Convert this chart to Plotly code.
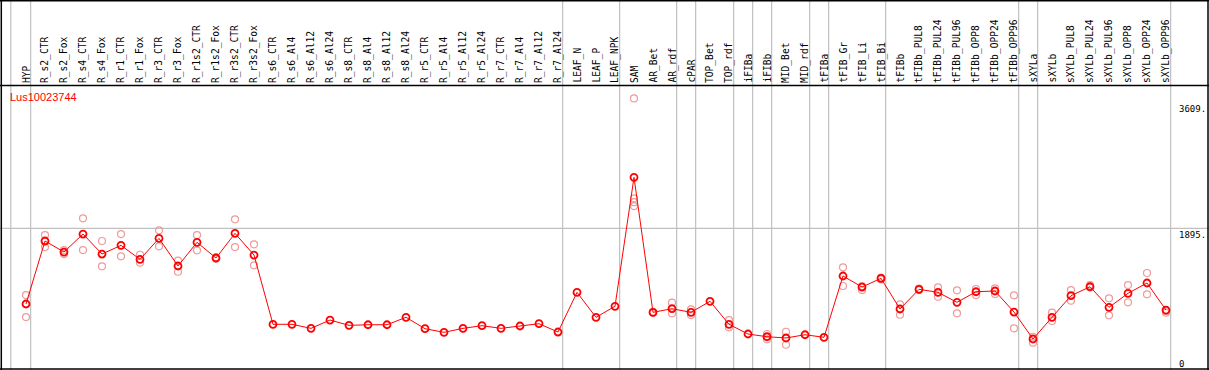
import plotly.graph_objects as go

categories = ["HYP", "R_s2_CTR", "R_s2_Fox", "R_s4_CTR", "R_s4_Fox", "R_r1_CTR", "R_r1_Fox",
              "R_r3_CTR", "R_r3_Fox", "R_r1s2_CTR", "R_r1s2_Fox", "R_r3s2_CTR", "R_r3s2_Fox",
              "R_s6_CTR", "R_s6_Al4", "R_s6_Al12", "R_s6_Al24", "R_s8_CTR", "R_s8_Al4", "R_s8_Al12",
              "R_s8_Al24", "R_r5_CTR", "R_r5_Al4", "R_r5_Al12", "R_r5_Al24", "R_r7_CTR", "R_r7_Al4",
              "R_r7_Al12", "R_r7_Al24", "LEAF_N", "LEAF_P", "LEAF_NPK", "SAM", "AR_Bet", "AR_rdf",
              "cPAR", "TOP_Bet", "TOP_rdf", "iFIBa", "iFIBb", "MID_Bet", "MID_rdf", "tFIBa",
              "tFIB_Gr", "tFIB_Li", "tFIB_Bi", "tFIBb", "tFIBb_PUL8", "tFIBb_PUL24", "tFIBb_PUL96",
              "tFIBb_OPP8", "tFIBb_OPP24", "tFIBb_OPP96", "sXYLa", "sXYLb", "sXYLb_PUL8",
              "sXYLb_PUL24", "sXYLb_PUL96", "sXYLb_OPP8", "sXYLb_OPP24", "sXYLb_OPP96"]

means = [865, 1722, 1572, 1817, 1545, 1663, 1473, 1758, 1382, 1704, 1491, 1826, 1531,
         589, 589, 534, 647, 575, 583, 583, 684, 529, 480, 534, 570, 534, 566, 597, 484,
         1024, 684, 834, 2588, 752, 801, 752, 902, 589, 457, 420, 403, 447, 412,
         1246, 1096, 1214, 797, 1065, 1024, 888, 1032, 1042, 756,
         389, 684, 978, 1100, 820, 1010, 1151, 783]

rep_cats = ["HYP", "HYP", "HYP",
            "R_s2_CTR", "R_s2_CTR", "R_s2_CTR",
            "R_s2_Fox", "R_s2_Fox",
            "R_s4_CTR", "R_s4_CTR",
            "R_s4_Fox", "R_s4_Fox",
            "R_r1_CTR", "R_r1_CTR",
            "R_r1_Fox", "R_r1_Fox",
            "R_r3_CTR", "R_r3_CTR",
            "R_r3_Fox", "R_r3_Fox",
            "R_r1s2_CTR", "R_r1s2_CTR",
            "R_r1s2_Fox", "R_r1s2_Fox",
            "R_r3s2_CTR", "R_r3s2_CTR",
            "R_r3s2_Fox", "R_r3s2_Fox",
            "SAM", "SAM", "SAM", "SAM",
            "AR_Bet", "AR_Bet",
            "AR_rdf", "AR_rdf",
            "cPAR", "cPAR",
            "TOP_rdf", "TOP_rdf",
            "iFIBb", "iFIBb",
            "MID_Bet", "MID_Bet",
            "tFIB_Gr", "tFIB_Gr",
            "tFIB_Li", "tFIB_Li",
            "tFIB_Bi", "tFIB_Bi",
            "tFIBb", "tFIBb",
            "tFIBb_PUL8", "tFIBb_PUL8",
            "tFIBb_PUL24", "tFIBb_PUL24",
            "tFIBb_PUL96", "tFIBb_PUL96",
            "tFIBb_OPP8", "tFIBb_OPP8",
            "tFIBb_OPP24", "tFIBb_OPP24",
            "tFIBb_OPP96", "tFIBb_OPP96",
            "sXYLa", "sXYLa",
            "sXYLb", "sXYLb",
            "sXYLb_PUL8", "sXYLb_PUL8",
            "sXYLb_PUL24", "sXYLb_PUL24",
            "sXYLb_PUL96", "sXYLb_PUL96",
            "sXYLb_OPP8", "sXYLb_OPP8",
            "sXYLb_OPP24", "sXYLb_OPP24",
            "sXYLb_OPP96", "sXYLb_OPP96"]

rep_vals = [987, 865, 688,
            1803, 1722, 1640,
            1599, 1545,
            2030, 1599,
            1722, 1378,
            1817, 1514,
            1535, 1427,
            1867, 1650,
            1454, 1304,
            1803, 1595,
            1480, 1500,
            2017, 1640,
            1677, 1391,
            3662, 2302, 2250, 2198,
            745, 760,
            883, 738,
            793, 715,
            647, 548,
            457, 385,
            488, 311,
            1364, 1110,
            1055, 1110,
            1200, 1225,
            861, 719,
            1055, 1075,
            1092, 964,
            1051, 738,
            1069, 987,
            1078, 1001,
            983, 534,
            420, 339,
            747, 634,
            1055, 910,
            1123, 1090,
            942, 711,
            1123, 888,
            1287, 997,
            747, 770]

group_breaks_after = ["HYP", "R_r7_Al24", "LEAF_NPK", "AR_rdf", "cPAR", "TOP_rdf", "iFIBa",
                      "iFIBb", "MID_rdf", "tFIBa", "tFIB_Bi", "tFIBb_OPP96", "sXYLa", "sXYLb_OPP96"]

gene_name = "Lus10023744"
y_tick_vals = [3609, 1895, 0]
y_tick_text = ["3609.", "1895.", "0"]

W, H = 1209, 370
STEP = 19.0
X_FIRST = 26.0
ZERO_PIX = 367.6
SLOPE = 0.07351  # px per unit


def py(p):
    return 1 - p / H


def px(p):
    return p / W


idx = {c: i for i, c in enumerate(categories)}
x_lo = -X_FIRST / STEP
x_hi = x_lo + W / STEP
y_hi = ZERO_PIX / SLOPE
y_lo = -(H - ZERO_PIX) / SLOPE

fig = go.Figure()
fig.add_trace(go.Scatter(
    x=[idx[c] for c in rep_cats], y=rep_vals, mode="markers",
    marker=dict(symbol="circle-open", size=7, color="#ef9a9a", line=dict(width=1.2)),
    hoverinfo="skip", showlegend=False))
fig.add_trace(go.Scatter(
    x=list(range(len(categories))), y=means, mode="lines+markers",
    line=dict(color="#ff0000", width=1),
    marker=dict(symbol="circle-open", size=7, color="#ff0000", line=dict(width=1.8)),
    showlegend=False))

shapes = []
grey = "#c0c0c0"
shapes.append(dict(type="line", xref="x", yref="paper", x0=-0.8, x1=-0.8, y0=0, y1=1,
                   line=dict(color=grey, width=1.2), layer="below"))
for c in group_breaks_after:
    xv = idx[c] + 0.245
    shapes.append(dict(type="line", xref="x", yref="paper", x0=xv, x1=xv, y0=0, y1=1,
                       line=dict(color=grey, width=1.2), layer="below"))
shapes.append(dict(type="line", xref="paper", yref="y", x0=0, x1=1, y0=y_tick_vals[1], y1=y_tick_vals[1],
                   line=dict(color=grey, width=1.2), layer="below"))
black = "#000000"
shapes.append(dict(type="line", xref="paper", yref="paper", x0=0, x1=1, y0=py(85.5), y1=py(85.5),
                   line=dict(color=black, width=1.5)))
shapes.append(dict(type="line", xref="paper", yref="paper", x0=0, x1=1, y0=py(0.8), y1=py(0.8),
                   line=dict(color=black, width=1.5)))
shapes.append(dict(type="line", xref="paper", yref="paper", x0=0, x1=1, y0=py(369), y1=py(369),
                   line=dict(color=black, width=1.5)))
shapes.append(dict(type="line", xref="paper", yref="paper", x0=px(1.3), x1=px(1.3), y0=0, y1=1,
                   line=dict(color=black, width=1.5)))
shapes.append(dict(type="line", xref="paper", yref="paper", x0=px(1208), x1=px(1208), y0=0, y1=1,
                   line=dict(color=black, width=1.5)))

annotations = []
for c in categories:
    annotations.append(dict(
        x=idx[c], xref="x", y=py(84), yref="paper", text=c, textangle=-90,
        showarrow=False, xanchor="center", yanchor="bottom", borderpad=0,
        font=dict(family="DejaVu Sans Mono", size=9.6, color="#000000")))

annotations.append(dict(
    x=px(9), xref="paper", y=py(97.5), yref="paper", text=gene_name, showarrow=False,
    xanchor="left", yanchor="middle", borderpad=0,
    font=dict(family="Liberation Sans", size=11, color="#ff0000")))

for v, t in zip(y_tick_vals, y_tick_text):
    ypix = ZERO_PIX - v * SLOPE
    if v == 0:
        ypix = 357.5
    annotations.append(dict(
        x=px(1178), xref="paper", y=py(ypix + 0.5), yref="paper", text=t, showarrow=False,
        xanchor="left", yanchor="top", borderpad=0,
        font=dict(family="DejaVu Sans Mono", size=9, color="#000000")))

fig.update_layout(
    width=W, height=H,
    margin=dict(l=0, r=0, t=0, b=0, autoexpand=False),
    paper_bgcolor="white", plot_bgcolor="white",
    xaxis=dict(range=[x_lo, x_hi], visible=False, fixedrange=True),
    yaxis=dict(range=[y_lo, y_hi], visible=False, fixedrange=True),
    shapes=shapes, annotations=annotations,
    showlegend=False,
)

fig.write_html("out.html", config={"displayModeBar": False},
               post_script="document.body.style.margin='0';document.body.style.padding='0';")
